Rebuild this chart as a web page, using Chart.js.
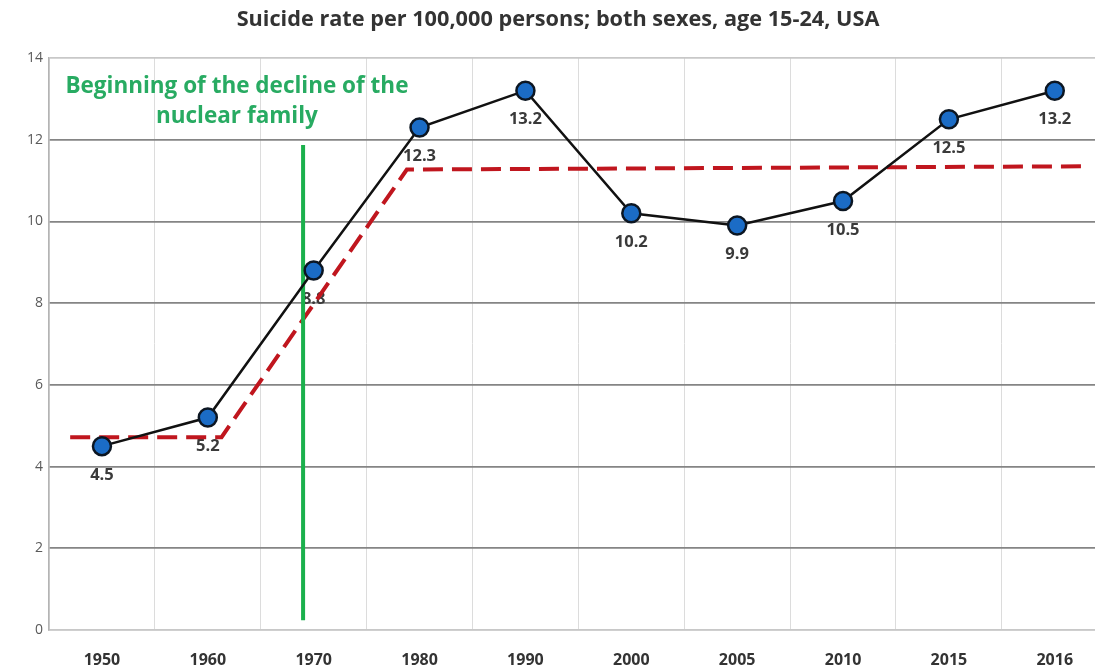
<!DOCTYPE html>
<html>
<head>
<meta charset="utf-8">
<script src="https://cdn.jsdelivr.net/npm/chart.js@4.4.1/dist/chart.umd.min.js"></script>
<style>
  html, body { margin: 0; padding: 0; background: #ffffff; overflow: hidden; }
  #wrap { width: 1095px; height: 669px; position: relative; }
</style>
</head>
<body>
<div id="wrap"><canvas id="c" width="1095" height="669"></canvas></div>
<script>
// ---- data ----
const years = ['1950', '1960', '1970', '1980', '1990', '2000', '2005', '2010', '2015', '2016'];
const rates = [4.5, 5.2, 8.8, 12.3, 13.2, 10.2, 9.9, 10.5, 12.5, 13.2];
const rateLabels = ['4.5', '5.2', '8.8', '12.3', '13.2', '10.2', '9.9', '10.5', '12.5', '13.2'];
// trend (red dashed) line, x in category-index units
const trendX = [-0.30, 1.13, 2.88, 9.30];
const trendY = [4.72, 4.72, 11.27, 11.35];
// vertical marker (green) at ~1969
const markerX = [1.90, 1.90];
const markerY = [11.87, 0.24];
const yTicks = [0, 2, 4, 6, 8, 10, 12, 14];
const titleText = 'Suicide rate per 100,000 persons; both sexes, age 15-24, USA';
const noteLines = ['Beginning of the decline of the', 'nuclear family'];

const FONT = '"Open Sans", Lato, sans-serif';

const labelPlugin = {
  id: 'pointLabels',
  beforeDatasetsDraw(chart) {
    const meta = chart.getDatasetMeta(0);
    const ctx = chart.ctx;
    ctx.save();
    ctx.font = 'bold 16.5px ' + FONT;
    ctx.fillStyle = '#3a3a3a';
    ctx.textAlign = 'center';
    ctx.textBaseline = 'middle';
    meta.data.forEach((pt, i) => {
      ctx.fillText(rateLabels[i], pt.x, pt.y + 29);
    });
    ctx.restore();
  },
  afterDraw(chart) {
    const ctx = chart.ctx;
    const xs = chart.scales.x, ys = chart.scales.y;
    ctx.save();
    // chart title
    ctx.font = 'bold 21.7px ' + FONT;
    ctx.fillStyle = '#333333';
    ctx.textAlign = 'center';
    ctx.textBaseline = 'middle';
    ctx.fillText(titleText, 558, 20);
    // annotation
    ctx.font = 'bold 22.5px ' + FONT;
    ctx.fillStyle = '#28ab62';
    const cx = xs.getPixelForValue(1.275);
    ctx.fillText(noteLines[0], cx, ys.getPixelForValue(13.3));
    ctx.fillText(noteLines[1], cx, ys.getPixelForValue(12.57));
    ctx.restore();
  }
};

new Chart(document.getElementById('c'), {
  type: 'line',
  data: {
    datasets: [
      {
        data: rates.map((v, i) => ({ x: i, y: v })),
        borderColor: '#111111',
        borderWidth: 2.5,
        pointRadius: 9,
        pointBackgroundColor: '#1b6cc6',
        pointBorderColor: '#0c1622',
        pointBorderWidth: 2.5,
        tension: 0
      },
      {
        data: markerX.map((x, i) => ({ x: x, y: markerY[i] })),
        borderColor: '#1bb04c',
        borderWidth: 4,
        pointRadius: 0
      },
      {
        data: trendX.map((x, i) => ({ x: x, y: trendY[i] })),
        borderColor: '#c0161e',
        borderWidth: 4,
        borderDash: [20, 9],
        pointRadius: 0
      }
    ]
  },
  options: {
    responsive: false,
    animation: false,
    devicePixelRatio: 1,
    layout: { autoPadding: false, padding: { left: 0, right: 0, top: 58, bottom: 0 } },
    plugins: {
      legend: { display: false },
      tooltip: { enabled: false },
      title: { display: false }
    },
    scales: {
      x: {
        type: 'linear',
        min: -0.5,
        max: 9.38,
        afterBuildTicks(scale) { scale.ticks = years.map((_, i) => ({ value: i })); },
        afterFit(scale) { scale.height = 39; scale.paddingRight = 0; scale.paddingLeft = 0; },
        grid: {
          offset: true,
          color: '#dcdcdc',
          lineWidth: 1,
          drawTicks: false
        },
        border: { display: true, color: '#c8c8c8', width: 1.5 },
        ticks: {
          autoSkip: false,
          maxRotation: 0,
          padding: 21,
          color: '#333333',
          font: { family: FONT, size: 16, weight: 'bold' },
          callback: (v) => years[v]
        }
      },
      y: {
        min: 0,
        max: 14,
        afterBuildTicks(scale) { scale.ticks = yTicks.map(v => ({ value: v })); },
        afterFit(scale) { scale.width = 49; },
        grid: {
          color: (c) => (c.tick && (c.tick.value === 0 || c.tick.value === 14)) ? '#c8c8c8' : '#858585',
          lineWidth: 1.7,
          drawTicks: false
        },
        border: { display: true, color: '#b4b4b4', width: 1.5 },
        ticks: {
          padding: 6,
          color: '#5a5a5a',
          font: { family: FONT, size: 14 },
          callback: (v) => String(v)
        }
      }
    }
  },
  plugins: [labelPlugin]
});
</script>
</body>
</html>
